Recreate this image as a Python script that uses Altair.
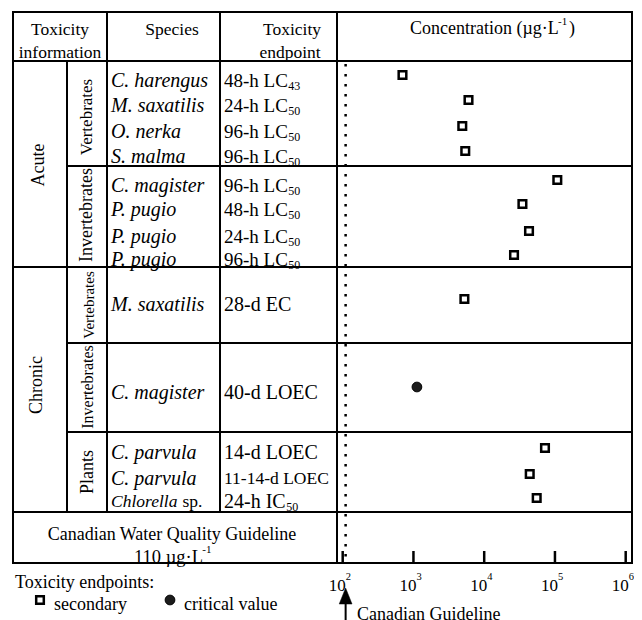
import altair as alt
import pandas as pd

# ---------------- data ----------------
duration = ["Acute"] * 8 + ["Chronic"] * 5
organism = ["Vertebrates"] * 4 + ["Invertebrates"] * 4 + ["Vertebrates", "Invertebrates", "Plants", "Plants", "Plants"]
species = ["C. harengus", "M. saxatilis", "O. nerka", "S. malma",
           "C. magister", "P. pugio", "P. pugio", "P. pugio",
           "M. saxatilis", "C. magister", "C. parvula", "C. parvula", "Chlorella"]
species_suffix = [""] * 12 + ["sp."]
endpoint = ["48-h LC", "24-h LC", "96-h LC", "96-h LC",
            "96-h LC", "48-h LC", "24-h LC", "96-h LC",
            "28-d EC", "40-d LOEC", "14-d LOEC", "11-14-d LOEC", "24-h IC"]
endpoint_sub = ["43", "50", "50", "50", "50", "50", "50", "50", "", "", "", "", "50"]
concentration = [700, 6000, 4900, 5400, 108000, 34700, 43000, 26400,
                 5250, 1120, 72300, 44000, 55200]
endpoint_type = ["secondary"] * 9 + ["critical value"] + ["secondary"] * 3
guideline_value = 110
tick_values = [1e2, 1e3, 1e4, 1e5, 1e6]
tick_exponents = ["2", "3", "4", "5", "6"]

# ---------------- layout (page pixels) ----------------
W, H = 626, 612
OFF = 8
FONT = "'Liberation Serif', 'Times New Roman', serif"


def p(v):
    return v - OFF


row_y = [75, 100, 126, 151, 180, 204, 231, 255, 299, 387, 448, 474, 498]
row_base = [6, 6, 6, 6, 6, 6, 6, 5, 6, 6, 5, 5, 4]
species_fs = [20] * 12 + [17.5]
endpoint_fs = [19] * 8 + [20, 20, 20, 17.5, 20]
X_SPECIES, X_END = 111, 224

TIMES = {"0": .5, "1": .5, "2": .5, "3": .5, "4": .5, "5": .5, "6": .5, "7": .5,
         "8": .5, "9": .5, "-": .333, " ": .25, "h": .5, "d": .5, "L": .611,
         "C": .667, "E": .611, "O": .722, "I": .333}
CHLORELLA_W = 3.834 + 0.25


def tw(s, fs):
    return sum(TIMES.get(c, .5) for c in s) * fs


XPX = alt.Scale(domain=[0, W], range=[0, W], nice=False, zero=False)
YPX = alt.Scale(domain=[0, H], range=[0, H], nice=False, zero=False)
XLOG = alt.Scale(type="log", domain=[1e2, 1e6], range=[p(342.7), p(625.7)], nice=False)

# ---------------- table grid ----------------
lines = [
    (13, 12, 632, 12), (13, 61, 632, 61), (67, 166, 632, 166), (13, 267, 632, 267),
    (67, 343, 632, 343), (67, 432, 632, 432), (13, 512, 632, 512), (13, 563, 632, 563),
    (13, 12, 13, 563), (67, 61, 67, 512), (107, 12, 107, 512), (220, 12, 220, 512),
    (337, 12, 337, 563), (632, 12, 632, 563),
]
grid_df = pd.DataFrame([dict(x=p(a), y=p(b), x2=p(c), y2=p(d)) for a, b, c, d in lines])
grid = alt.Chart(grid_df).mark_rule(color="black", strokeWidth=2, strokeCap="square").encode(
    x=alt.X("x:Q", scale=XPX, axis=None), x2="x2:Q",
    y=alt.Y("y:Q", scale=YPX, axis=None), y2="y2:Q")


def text_layer(items, **props):
    df = pd.DataFrame([dict(x=p(x), y=p(y), t=t, fs=fs) for x, y, t, fs in items])
    return alt.Chart(df).mark_text(font=FONT, color="black", **props).encode(
        x=alt.X("x:Q", scale=XPX, axis=None),
        y=alt.Y("y:Q", scale=YPX, axis=None),
        text="t:N",
        size=alt.Size("fs:Q", scale=None, legend=None))


# header / footer texts
header_center = [
    (60, 30, "Toxicity", 17.5), (60, 53, "information", 17.5),
    (172, 30, "Species", 17.5),
    (292, 30, "Toxicity", 17.5), (290, 53, "endpoint", 17.5),
    (172, 535, "Canadian Water Quality Guideline", 18),
]
conc_title = "Concentration (µg·L"
ct_w = 8.11 * 18
header_left = [
    (410, 29, conc_title, 18), (410 + ct_w + 13, 29, ")", 18),
    (134, 557, "110 µg·L", 18.5),
    (15, 583, "Toxicity endpoints:", 18),
    (54, 605, "secondary", 18), (184, 605, "critical value", 18),
    (357, 615, "Canadian Guideline", 18),
]
sups = [
    (410 + ct_w + 2, 22, "-1", 11),
    (134 + 3.611 * 18.5 + 1.5, 550, "-1", 11),
]

# rows
species_items, suffix_items, end_items, sub_items = [], [], [], []
for i in range(len(species)):
    yb = row_y[i] + row_base[i]
    species_items.append((X_SPECIES, yb, species[i], species_fs[i]))
    if species_suffix[i]:
        suffix_items.append((X_SPECIES + CHLORELLA_W * species_fs[i], yb, species_suffix[i], species_fs[i]))
    end_items.append((X_END, yb, endpoint[i], endpoint_fs[i]))
    if endpoint_sub[i]:
        sub_items.append((X_END + tw(endpoint[i], endpoint_fs[i]) + 0.5, yb + 5, endpoint_sub[i], 12))

# group labels (rotated)
group_labels = [
    (39, 165, "Acute", 18), (87, 117, "Vertebrates", 17), (87, 215, "Invertebrates", 18),
    (37, 385, "Chronic", 18), (89, 305, "Vertebrates", 15), (88, 387, "Invertebrates", 16),
    (88, 472, "Plants", 18),
]

# ---------------- plot region ----------------
pts = pd.DataFrame({"conc": concentration, "type": endpoint_type,
                    "y": [p(v) for v in row_y]})

sq = alt.Chart(pts).transform_filter(alt.datum.type == "secondary").mark_point(
    shape="square", filled=False, fill="white", stroke="black", strokeWidth=2.5, size=58, opacity=1
).encode(x=alt.X("conc:Q", scale=XLOG, axis=None), y=alt.Y("y:Q", scale=YPX, axis=None))

crit = alt.Chart(pts).transform_filter(alt.datum.type == "critical value").mark_point(
    shape="circle", filled=True, fill="#1c1c1c", stroke="black", strokeWidth=1, size=95, opacity=1
).encode(x=alt.X("conc:Q", scale=XLOG, axis=None), y=alt.Y("y:Q", scale=YPX, axis=None))

guide_df = pd.DataFrame({"conc": [guideline_value], "y": [p(64)], "y2": [p(561)]})
guide = alt.Chart(guide_df).mark_rule(color="black", strokeWidth=2.5, strokeDash=[2.5, 7.5]).encode(
    x=alt.X("conc:Q", scale=XLOG, axis=None), y=alt.Y("y:Q", scale=YPX, axis=None), y2="y2:Q")

arrow_df = pd.DataFrame({"conc": [guideline_value], "y": [p(600)], "y2": [p(620)], "yh": [p(596)]})
shaft = alt.Chart(arrow_df).mark_rule(color="black", strokeWidth=2).encode(
    x=alt.X("conc:Q", scale=XLOG, axis=None), y=alt.Y("y:Q", scale=YPX, axis=None), y2="y2:Q")
head = alt.Chart(arrow_df).mark_point(
    shape="M0,-1L0.8,1L-0.8,1Z", filled=True, fill="black", stroke="black", strokeWidth=0.5, size=256, opacity=1
).encode(x=alt.X("conc:Q", scale=XLOG, axis=None), y=alt.Y("yh:Q", scale=YPX, axis=None))

ticks_df = pd.DataFrame({"conc": tick_values, "base": ["10"] * 5, "exp": tick_exponents})
ticks = alt.Chart(ticks_df).mark_rule(color="black", strokeWidth=2.5).encode(
    x=alt.X("conc:Q", scale=XLOG, axis=None), y=alt.value(p(551)), y2=alt.value(p(563)))
tick_lab = alt.Chart(ticks_df).mark_text(font=FONT, fontSize=17, align="right", dx=3, color="black").encode(
    x=alt.X("conc:Q", scale=XLOG, axis=None), y=alt.value(p(586)), text="base:N")
tick_sup = alt.Chart(ticks_df).mark_text(font=FONT, fontSize=10.5, align="left", dx=3, color="black").encode(
    x=alt.X("conc:Q", scale=XLOG, axis=None), y=alt.value(p(577)), text="exp:N")

legend_df = pd.DataFrame({"x": [p(40), p(170)], "y": [p(600), p(600)], "type": ["secondary", "critical value"]})
leg_sq = alt.Chart(legend_df).transform_filter(alt.datum.type == "secondary").mark_point(
    shape="square", filled=False, fill="white", stroke="black", strokeWidth=2.5, size=58, opacity=1
).encode(x=alt.X("x:Q", scale=XPX, axis=None), y=alt.Y("y:Q", scale=YPX, axis=None))
leg_ci = alt.Chart(legend_df).transform_filter(alt.datum.type == "critical value").mark_point(
    shape="circle", filled=True, fill="#1c1c1c", stroke="black", strokeWidth=1, size=95, opacity=1
).encode(x=alt.X("x:Q", scale=XPX, axis=None), y=alt.Y("y:Q", scale=YPX, axis=None))

layers = [
    grid,
    guide,
    ticks,
    text_layer(header_center, align="center"),
    text_layer(header_left, align="left"),
    text_layer(sups, align="left"),
    text_layer(species_items, align="left", fontStyle="italic"),
    text_layer(suffix_items, align="left"),
    text_layer(end_items, align="left"),
    text_layer(sub_items, align="left"),
    text_layer(group_labels, align="center", baseline="middle", angle=270),
    sq, crit, shaft, head, tick_lab, tick_sup, leg_sq, leg_ci,
]

chart = alt.layer(*layers).resolve_scale(x="independent", y="independent").properties(
    width=W, height=H, padding=0, autosize=alt.AutoSizeParams(type="none")
).configure_view(stroke=None)

chart.save("out.html", embed_options={"renderer": "svg", "actions": False})
